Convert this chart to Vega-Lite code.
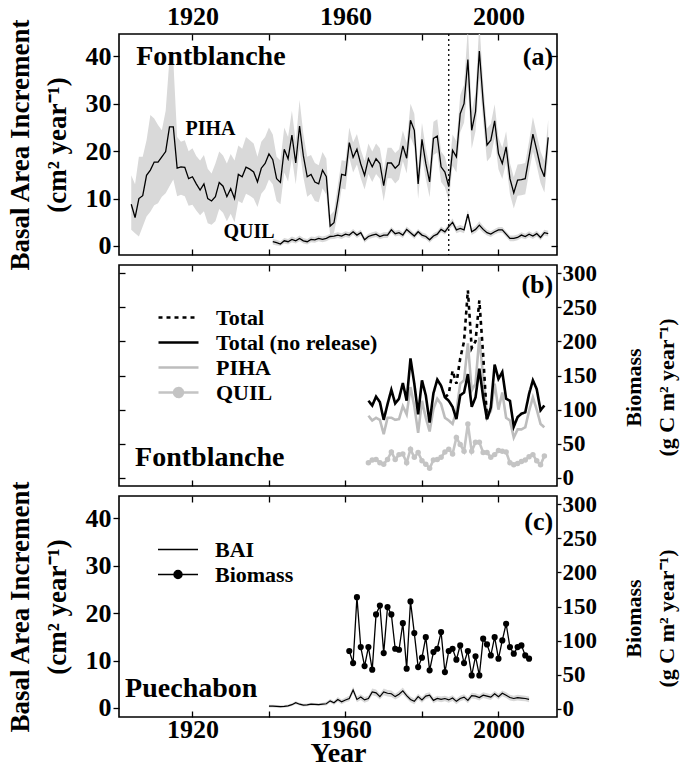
{
"$schema": "https://vega.github.io/schema/vega-lite/v6.json",
"padding": {"left": 5, "top": 2, "right": 5, "bottom": 0},
"spacing": 10,
"bounds": "flush",
"config": {
  "font": "Liberation Serif",
  "view": {"stroke": "black", "strokeWidth": 1.6},
  "axis": {"domain": false, "grid": false, "labelFont": "Liberation Serif", "labelFontWeight": "bold", "labelFontSize": 26, "labelColor": "black", "tickColor": "black", "tickWidth": 1.3, "titleFont": "Liberation Serif", "titleFontWeight": "bold", "titleColor": "black", "labelFlush": false, "labelOverlap": false, "labelBound": false},
  "legend": {"labelFont": "Liberation Serif", "labelFontWeight": "bold", "labelFontSize": 22, "labelColor": "black", "labelLimit": 400},
  "text": {"font": "Liberation Serif", "fontWeight": "bold", "color": "black"}
},
"resolve": {"scale": {"color": "independent", "strokeDash": "independent", "strokeWidth": "independent", "shape": "independent"}},
"datasets": {
"pa": [
{"y":1904,"m":8.8,"lo":3.4,"hi":14.9},{"y":1905,"m":6.0,"lo":2.7,"hi":13.0},{"y":1906,"m":10.0,"lo":2.0,"hi":18.8},{"y":1907,"m":10.6,"lo":4.1,"hi":18.8},{"y":1908,"m":14.9,"lo":6.2,"hi":22.3},{"y":1909,"m":16.0,"lo":7.2,"hi":27.6},{"y":1910,"m":17.7,"lo":8.6,"hi":26.9},{"y":1911,"m":17.7,"lo":9.0,"hi":25.5},{"y":1912,"m":18.8,"lo":10.4,"hi":24.4},{"y":1913,"m":19.9,"lo":11.1,"hi":28.5},{"y":1914,"m":25.1,"lo":12.6,"hi":39.5},{"y":1915,"m":25.1,"lo":14.0,"hi":39.0},{"y":1916,"m":16.4,"lo":10.5,"hi":23.0},{"y":1917,"m":16.7,"lo":10.8,"hi":22.0},{"y":1918,"m":16.6,"lo":10.5,"hi":22.3},{"y":1919,"m":14.2,"lo":8.5,"hi":20.0},{"y":1920,"m":14.6,"lo":8.7,"hi":20.6},{"y":1921,"m":13.1,"lo":7.5,"hi":19.0},{"y":1922,"m":11.8,"lo":6.5,"hi":18.0},{"y":1923,"m":13.1,"lo":7.3,"hi":19.2},{"y":1924,"m":10.0,"lo":4.8,"hi":16.3},{"y":1925,"m":9.5,"lo":4.5,"hi":15.3},{"y":1926,"m":10.4,"lo":5.2,"hi":17.4},{"y":1927,"m":13.4,"lo":7.8,"hi":19.9},{"y":1928,"m":12.6,"lo":7.0,"hi":19.1},{"y":1929,"m":10.4,"lo":5.2,"hi":17.4},{"y":1930,"m":12.1,"lo":6.8,"hi":19.4},{"y":1931,"m":10.0,"lo":5.0,"hi":18.0},{"y":1932,"m":15.1,"lo":9.5,"hi":21.2},{"y":1933,"m":14.6,"lo":9.0,"hi":20.5},{"y":1934,"m":16.6,"lo":11.0,"hi":23.0},{"y":1935,"m":16.2,"lo":10.6,"hi":22.3},{"y":1936,"m":15.6,"lo":10.0,"hi":21.6},{"y":1937,"m":13.5,"lo":8.2,"hi":18.8},{"y":1938,"m":16.4,"lo":11.0,"hi":22.0},{"y":1939,"m":17.4,"lo":12.0,"hi":23.0},{"y":1940,"m":19.4,"lo":14.0,"hi":25.0},{"y":1941,"m":18.2,"lo":13.0,"hi":23.5},{"y":1942,"m":14.2,"lo":9.5,"hi":18.8},{"y":1943,"m":13.4,"lo":8.8,"hi":18.0},{"y":1944,"m":20.4,"lo":15.5,"hi":25.0},{"y":1945,"m":18.4,"lo":13.6,"hi":23.0},{"y":1946,"m":23.4,"lo":18.6,"hi":28.5},{"y":1947,"m":17.5,"lo":13.0,"hi":22.0},{"y":1948,"m":25.3,"lo":20.5,"hi":30.8},{"y":1949,"m":19.0,"lo":14.5,"hi":23.6},{"y":1950,"m":14.6,"lo":10.4,"hi":18.8},{"y":1951,"m":15.1,"lo":11.0,"hi":19.2},{"y":1952,"m":13.5,"lo":9.5,"hi":17.5},{"y":1953,"m":13.1,"lo":9.2,"hi":17.0},{"y":1954,"m":16.0,"lo":12.2,"hi":19.8},{"y":1955,"m":14.6,"lo":10.8,"hi":18.4},{"y":1956,"m":4.2,"lo":2.2,"hi":6.5},{"y":1957,"m":4.9,"lo":2.8,"hi":7.4},{"y":1958,"m":9.7,"lo":6.7,"hi":12.8},{"y":1959,"m":15.1,"lo":12.1,"hi":18.1},{"y":1960,"m":14.9,"lo":11.9,"hi":17.9},{"y":1961,"m":21.8,"lo":18.6,"hi":25.0},{"y":1962,"m":18.7,"lo":15.5,"hi":21.9},{"y":1963,"m":20.4,"lo":17.2,"hi":23.6},{"y":1964,"m":17.3,"lo":14.3,"hi":20.3},{"y":1965,"m":14.9,"lo":11.9,"hi":17.9},{"y":1966,"m":18.4,"lo":15.2,"hi":21.6},{"y":1967,"m":16.7,"lo":13.5,"hi":19.9},{"y":1968,"m":18.4,"lo":15.2,"hi":21.6},{"y":1969,"m":17.4,"lo":14.2,"hi":20.6},{"y":1970,"m":12.7,"lo":9.5,"hi":15.9},{"y":1971,"m":17.5,"lo":14.3,"hi":20.7},{"y":1972,"m":17.5,"lo":14.3,"hi":20.7},{"y":1973,"m":16.4,"lo":13.2,"hi":19.6},{"y":1974,"m":17.2,"lo":14.0,"hi":20.4},{"y":1975,"m":21.1,"lo":17.9,"hi":24.3},{"y":1976,"m":18.5,"lo":15.3,"hi":21.7},{"y":1977,"m":26.5,"lo":23.0,"hi":30.0},{"y":1978,"m":24.4,"lo":20.9,"hi":27.9},{"y":1979,"m":13.1,"lo":9.9,"hi":16.3},{"y":1980,"m":22.5,"lo":19.0,"hi":26.0},{"y":1981,"m":17.4,"lo":14.2,"hi":20.6},{"y":1982,"m":13.5,"lo":10.3,"hi":16.7},{"y":1983,"m":22.7,"lo":19.2,"hi":26.2},{"y":1984,"m":23.2,"lo":19.7,"hi":26.7},{"y":1985,"m":16.7,"lo":13.5,"hi":19.9},{"y":1986,"m":15.6,"lo":12.4,"hi":18.8},{"y":1987,"m":12.5,"lo":9.5,"hi":15.5},{"y":1988,"m":20.2,"lo":16.9,"hi":23.5},{"y":1989,"m":18.8,"lo":15.5,"hi":22.1},{"y":1990,"m":27.9,"lo":24.0,"hi":31.8},{"y":1991,"m":30.0,"lo":26.0,"hi":34.0},{"y":1992,"m":39.3,"lo":34.0,"hi":46.0},{"y":1993,"m":24.4,"lo":20.5,"hi":28.3},{"y":1994,"m":28.3,"lo":24.2,"hi":32.4},{"y":1995,"m":41.1,"lo":35.5,"hi":47.0},{"y":1996,"m":30.4,"lo":26.3,"hi":34.5},{"y":1997,"m":21.3,"lo":17.8,"hi":24.8},{"y":1998,"m":22.3,"lo":18.8,"hi":25.8},{"y":1999,"m":26.4,"lo":22.9,"hi":29.9},{"y":2000,"m":19.5,"lo":16.2,"hi":22.8},{"y":2001,"m":17.4,"lo":14.1,"hi":20.7},{"y":2002,"m":20.9,"lo":17.6,"hi":24.2},{"y":2003,"m":14.2,"lo":10.9,"hi":17.5},{"y":2004,"m":11.2,"lo":7.9,"hi":14.5},{"y":2005,"m":13.9,"lo":10.6,"hi":17.2},{"y":2006,"m":14.0,"lo":10.7,"hi":17.3},{"y":2007,"m":14.2,"lo":10.9,"hi":17.5},{"y":2008,"m":18.8,"lo":15.5,"hi":22.1},{"y":2009,"m":23.6,"lo":20.0,"hi":27.2},{"y":2010,"m":20.2,"lo":16.9,"hi":23.5},{"y":2011,"m":16.6,"lo":13.3,"hi":19.9},{"y":2012,"m":14.6,"lo":11.3,"hi":17.9},{"y":2013,"m":22.9,"lo":19.2,"hi":26.6}
],
"qa": [
{"y":1941,"m":0.9,"lo":0.3,"hi":1.5},{"y":1942,"m":0.7,"lo":0.1,"hi":1.3},{"y":1943,"m":0.4,"lo":0.0,"hi":1.0},{"y":1944,"m":1.1,"lo":0.5,"hi":1.7},{"y":1945,"m":0.9,"lo":0.3,"hi":1.5},{"y":1946,"m":1.4,"lo":0.8,"hi":2.0},{"y":1947,"m":1.1,"lo":0.5,"hi":1.7},{"y":1948,"m":1.6,"lo":1.0,"hi":2.2},{"y":1949,"m":1.1,"lo":0.5,"hi":1.7},{"y":1950,"m":0.9,"lo":0.3,"hi":1.5},{"y":1951,"m":1.4,"lo":0.8,"hi":2.0},{"y":1952,"m":1.3,"lo":0.7,"hi":1.9},{"y":1953,"m":1.6,"lo":1.0,"hi":2.2},{"y":1954,"m":1.4,"lo":0.8,"hi":2.0},{"y":1955,"m":1.6,"lo":1.0,"hi":2.2},{"y":1956,"m":2.0,"lo":1.4,"hi":2.6},{"y":1957,"m":2.1,"lo":1.5,"hi":2.7},{"y":1958,"m":2.3,"lo":1.7,"hi":2.9},{"y":1959,"m":2.1,"lo":1.5,"hi":2.7},{"y":1960,"m":2.5,"lo":1.9,"hi":3.1},{"y":1961,"m":2.3,"lo":1.7,"hi":2.9},{"y":1962,"m":3.0,"lo":2.4,"hi":3.6},{"y":1963,"m":2.3,"lo":1.7,"hi":2.9},{"y":1964,"m":2.8,"lo":2.2,"hi":3.4},{"y":1965,"m":1.3,"lo":0.7,"hi":1.9},{"y":1966,"m":2.0,"lo":1.4,"hi":2.6},{"y":1967,"m":2.3,"lo":1.7,"hi":2.9},{"y":1968,"m":2.5,"lo":1.9,"hi":3.1},{"y":1969,"m":2.0,"lo":1.4,"hi":2.6},{"y":1970,"m":2.3,"lo":1.7,"hi":2.9},{"y":1971,"m":2.3,"lo":1.7,"hi":2.9},{"y":1972,"m":3.4,"lo":2.8,"hi":4.0},{"y":1973,"m":2.6,"lo":2.0,"hi":3.2},{"y":1974,"m":2.8,"lo":2.2,"hi":3.4},{"y":1975,"m":2.3,"lo":1.7,"hi":2.9},{"y":1976,"m":3.5,"lo":2.9,"hi":4.1},{"y":1977,"m":2.8,"lo":2.2,"hi":3.4},{"y":1978,"m":2.1,"lo":1.5,"hi":2.7},{"y":1979,"m":3.0,"lo":2.4,"hi":3.6},{"y":1980,"m":2.3,"lo":1.7,"hi":2.9},{"y":1981,"m":2.0,"lo":1.4,"hi":2.6},{"y":1982,"m":1.3,"lo":0.7,"hi":1.9},{"y":1983,"m":2.1,"lo":1.5,"hi":2.7},{"y":1984,"m":2.5,"lo":1.9,"hi":3.1},{"y":1985,"m":3.5,"lo":2.9,"hi":4.1},{"y":1986,"m":3.0,"lo":2.4,"hi":3.6},{"y":1987,"m":4.1,"lo":3.4,"hi":4.8},{"y":1988,"m":5.0,"lo":4.2,"hi":5.8},{"y":1989,"m":3.4,"lo":2.7,"hi":4.1},{"y":1990,"m":3.7,"lo":3.0,"hi":4.4},{"y":1991,"m":3.4,"lo":2.7,"hi":4.1},{"y":1992,"m":6.7,"lo":5.8,"hi":7.6},{"y":1993,"m":3.0,"lo":2.3,"hi":3.7},{"y":1994,"m":3.5,"lo":2.8,"hi":4.2},{"y":1995,"m":4.4,"lo":3.6,"hi":5.2},{"y":1996,"m":3.5,"lo":2.8,"hi":4.2},{"y":1997,"m":2.8,"lo":2.2,"hi":3.4},{"y":1998,"m":2.5,"lo":1.9,"hi":3.1},{"y":1999,"m":3.0,"lo":2.4,"hi":3.6},{"y":2000,"m":3.4,"lo":2.8,"hi":4.0},{"y":2001,"m":3.4,"lo":2.8,"hi":4.0},{"y":2002,"m":2.5,"lo":1.9,"hi":3.1},{"y":2003,"m":1.6,"lo":1.0,"hi":2.2},{"y":2004,"m":1.6,"lo":1.0,"hi":2.2},{"y":2005,"m":1.8,"lo":1.2,"hi":2.4},{"y":2006,"m":2.3,"lo":1.7,"hi":2.9},{"y":2007,"m":2.0,"lo":1.4,"hi":2.6},{"y":2008,"m":2.5,"lo":1.9,"hi":3.1},{"y":2009,"m":2.1,"lo":1.5,"hi":2.7},{"y":2010,"m":2.6,"lo":2.0,"hi":3.2},{"y":2011,"m":1.8,"lo":1.2,"hi":2.4},{"y":2012,"m":2.8,"lo":2.2,"hi":3.4},{"y":2013,"m":2.6,"lo":2.0,"hi":3.2}
],
"pb": [
{"y":1966,"p":91,"q":22,"n":113},{"y":1967,"p":84,"q":26,"n":106},{"y":1968,"p":88,"q":27,"n":119},{"y":1969,"p":85,"q":22,"n":111},{"y":1970,"p":64,"q":20,"n":85},{"y":1971,"p":88,"q":27,"n":108},{"y":1972,"p":88,"q":38,"n":129},{"y":1973,"p":85,"q":27,"n":109},{"y":1974,"p":86,"q":34,"n":116},{"y":1975,"p":105,"q":35,"n":139},{"y":1976,"p":93,"q":22,"n":113},{"y":1977,"p":133,"q":42,"n":175},{"y":1978,"p":105,"q":30,"n":138},{"y":1979,"p":66,"q":37,"n":93},{"y":1980,"p":113,"q":25,"n":143},{"y":1981,"p":88,"q":20,"n":121},{"y":1982,"p":68,"q":14,"n":81},{"y":1983,"p":101,"q":26,"n":124},{"y":1984,"p":116,"q":27,"n":144},{"y":1985,"p":108,"q":30,"n":135},{"y":1986,"p":88,"q":38,"n":118,"t":118},{"y":1987,"p":84,"q":42,"n":113,"t":123},{"y":1988,"p":79,"q":35,"n":104,"t":157},{"y":1989,"p":98,"q":59,"n":86,"t":138},{"y":1990,"p":138,"q":49,"n":121,"t":175},{"y":1991,"p":143,"q":39,"n":125,"t":200},{"y":1992,"p":197,"q":79,"n":152,"t":275},{"y":1993,"p":128,"q":39,"n":104,"t":190},{"y":1994,"p":138,"q":52,"n":118,"t":200},{"y":1995,"p":206,"q":52,"n":160,"t":260},{"y":1996,"p":148,"q":37,"n":118,"t":180},{"y":1997,"p":88,"q":37,"n":86,"t":86},{"y":1998,"p":98,"q":30,"n":103},{"y":1999,"p":138,"q":34,"n":166},{"y":2000,"p":100,"q":40,"n":145},{"y":2001,"p":125,"q":39,"n":155},{"y":2002,"p":88,"q":38,"n":116},{"y":2003,"p":84,"q":22,"n":113},{"y":2004,"p":59,"q":19,"n":75},{"y":2005,"p":71,"q":21,"n":89},{"y":2006,"p":71,"q":24,"n":94},{"y":2007,"p":74,"q":26,"n":96},{"y":2008,"p":98,"q":31,"n":123},{"y":2009,"p":118,"q":34,"n":143},{"y":2010,"p":100,"q":25,"n":130},{"y":2011,"p":79,"q":19,"n":99},{"y":2012,"p":74,"q":32,"n":106}
],
"ca": [
{"y":1940,"m":0.4,"lo":0.1,"hi":0.7},{"y":1941,"m":0.4,"lo":0.1,"hi":0.7},{"y":1942,"m":0.35,"lo":0.05,"hi":0.65},{"y":1943,"m":0.3,"lo":0.0,"hi":0.6},{"y":1944,"m":0.35,"lo":0.05,"hi":0.65},{"y":1945,"m":0.45,"lo":0.15,"hi":0.75},{"y":1946,"m":0.7,"lo":0.4,"hi":1.0},{"y":1947,"m":1.1,"lo":0.8,"hi":1.4},{"y":1948,"m":0.8,"lo":0.5,"hi":1.1},{"y":1949,"m":0.6,"lo":0.3,"hi":0.9},{"y":1950,"m":0.65,"lo":0.35,"hi":0.95},{"y":1951,"m":0.8,"lo":0.5,"hi":1.1},{"y":1952,"m":0.75,"lo":0.45,"hi":1.05},{"y":1953,"m":0.7,"lo":0.4,"hi":1.0},{"y":1954,"m":0.8,"lo":0.5,"hi":1.1},{"y":1955,"m":0.9,"lo":0.5,"hi":1.3},{"y":1956,"m":1.5,"lo":1.1,"hi":1.9},{"y":1957,"m":1.1,"lo":0.7,"hi":1.5},{"y":1958,"m":1.8,"lo":1.3,"hi":2.3},{"y":1959,"m":1.3,"lo":0.8,"hi":1.8},{"y":1960,"m":1.7,"lo":1.2,"hi":2.2},{"y":1961,"m":2.0,"lo":1.4,"hi":2.6},{"y":1962,"m":3.8,"lo":3.1,"hi":4.5},{"y":1963,"m":1.8,"lo":1.2,"hi":2.4},{"y":1964,"m":2.3,"lo":1.7,"hi":2.9},{"y":1965,"m":1.7,"lo":1.1,"hi":2.3},{"y":1966,"m":2.0,"lo":1.4,"hi":2.6},{"y":1967,"m":3.4,"lo":2.7,"hi":4.1},{"y":1968,"m":3.2,"lo":2.5,"hi":3.9},{"y":1969,"m":2.4,"lo":1.8,"hi":3.0},{"y":1970,"m":3.4,"lo":2.7,"hi":4.1},{"y":1971,"m":3.1,"lo":2.4,"hi":3.8},{"y":1972,"m":3.0,"lo":2.3,"hi":3.7},{"y":1973,"m":2.4,"lo":1.8,"hi":3.0},{"y":1974,"m":2.9,"lo":2.2,"hi":3.6},{"y":1975,"m":3.6,"lo":2.9,"hi":4.3},{"y":1976,"m":2.6,"lo":2.0,"hi":3.2},{"y":1977,"m":1.8,"lo":1.2,"hi":2.4},{"y":1978,"m":1.4,"lo":0.8,"hi":2.0},{"y":1979,"m":2.4,"lo":1.8,"hi":3.0},{"y":1980,"m":1.7,"lo":1.1,"hi":2.3},{"y":1981,"m":2.5,"lo":1.9,"hi":3.1},{"y":1982,"m":2.7,"lo":2.1,"hi":3.3},{"y":1983,"m":1.6,"lo":1.0,"hi":2.2},{"y":1984,"m":2.0,"lo":1.4,"hi":2.6},{"y":1985,"m":1.8,"lo":1.2,"hi":2.4},{"y":1986,"m":2.0,"lo":1.4,"hi":2.6},{"y":1987,"m":1.7,"lo":1.1,"hi":2.3},{"y":1988,"m":2.1,"lo":1.5,"hi":2.7},{"y":1989,"m":1.4,"lo":0.8,"hi":2.0},{"y":1990,"m":2.0,"lo":1.4,"hi":2.6},{"y":1991,"m":2.3,"lo":1.7,"hi":2.9},{"y":1992,"m":1.6,"lo":1.0,"hi":2.2},{"y":1993,"m":2.6,"lo":2.0,"hi":3.2},{"y":1994,"m":2.5,"lo":1.9,"hi":3.1},{"y":1995,"m":2.2,"lo":1.6,"hi":2.8},{"y":1996,"m":2.7,"lo":2.1,"hi":3.3},{"y":1997,"m":2.5,"lo":1.9,"hi":3.1},{"y":1998,"m":2.3,"lo":1.7,"hi":2.9},{"y":1999,"m":3.0,"lo":2.4,"hi":3.6},{"y":2000,"m":2.4,"lo":1.8,"hi":3.0},{"y":2001,"m":3.1,"lo":2.5,"hi":3.7},{"y":2002,"m":2.7,"lo":2.1,"hi":3.3},{"y":2003,"m":2.2,"lo":1.6,"hi":2.8},{"y":2004,"m":2.0,"lo":1.4,"hi":2.6},{"y":2005,"m":2.2,"lo":1.6,"hi":2.8},{"y":2006,"m":2.1,"lo":1.5,"hi":2.7},{"y":2007,"m":2.0,"lo":1.4,"hi":2.6},{"y":2008,"m":1.8,"lo":1.2,"hi":2.4}
],
"cb": [
{"y":1961,"v":84.7},{"y":1962,"v":67.1},{"y":1963,"v":163.7},{"y":1964,"v":90.5},{"y":1965,"v":62.7},{"y":1966,"v":90.5},{"y":1967,"v":57.4},{"y":1968,"v":138.4},{"y":1969,"v":151.5},{"y":1970,"v":81.7},{"y":1971,"v":149.1},{"y":1972,"v":138.4},{"y":1973,"v":88.1},{"y":1974,"v":86.6},{"y":1975,"v":125.6},{"y":1976,"v":58.8},{"y":1977,"v":157.4},{"y":1978,"v":111},{"y":1979,"v":61.2},{"y":1980,"v":75},{"y":1981,"v":105.1},{"y":1982,"v":56.4},{"y":1983,"v":83.2},{"y":1984,"v":88.1},{"y":1985,"v":112.5},{"y":1986,"v":53.9},{"y":1987,"v":84.7},{"y":1988,"v":88.1},{"y":1989,"v":72},{"y":1990,"v":93},{"y":1991,"v":67.1},{"y":1992,"v":84.7},{"y":1993,"v":49},{"y":1994,"v":76.9},{"y":1995,"v":49},{"y":1996,"v":102.8},{"y":1997,"v":94.4},{"y":1998,"v":78.3},{"y":1999,"v":105.1},{"y":2000,"v":73.5},{"y":2001,"v":100.3},{"y":2002,"v":124.7},{"y":2003,"v":90.5},{"y":2004,"v":80.8},{"y":2005,"v":90.5},{"y":2006,"v":93},{"y":2007,"v":78.3},{"y":2008,"v":73.5}
]
},
"vconcat": [
{
 "width": 438, "height": 221,
 "resolve": {"axis": {"x": "independent", "y": "independent"}},
 "layer": [
  {"data": {"name": "pa"}, "mark": {"type": "area", "color": "#d9d9d9", "clip": true},
   "encoding": {
    "x": {"field": "y", "type": "quantitative", "scale": {"domain": [1900.8, 2015.3], "nice": false, "zero": false},
          "axis": {"orient": "top", "values": [1920,1940,1960,1980,2000], "format": "d", "labelExpr": "datum.value % 40 == 0 ? datum.label : ''", "tickSize": -6, "labelPadding": 11, "title": null}},
    "y": {"field": "lo", "type": "quantitative", "scale": {"domain": [-1.9, 44.7], "nice": false, "zero": false},
          "axis": {"orient": "left", "values": [0,10,20,30,40], "tickSize": 6, "labelPadding": 2, "title": ["Basal Area Increment", "(cm² year⁻¹)"], "titleFontSize": 27, "titleLineHeight": 37, "titlePadding": 14}},
    "y2": {"field": "hi"}}},
  {"data": {"name": "qa"}, "mark": {"type": "area", "color": "#d9d9d9"},
   "encoding": {
    "x": {"field": "y", "type": "quantitative", "axis": null},
    "y": {"field": "lo", "type": "quantitative", "axis": null},
    "y2": {"field": "hi"}}},
  {"data": {"name": "pa"}, "mark": {"type": "line", "color": "black", "strokeWidth": 1.3},
   "encoding": {
    "x": {"field": "y", "type": "quantitative", "axis": {"orient": "bottom", "values": [1920,1940,1960,1980,2000], "labels": false, "tickSize": -6, "title": null}},
    "y": {"field": "m", "type": "quantitative", "axis": {"orient": "right", "values": [0,10,20,30,40], "labels": false, "tickSize": -6, "title": null}}}},
  {"data": {"name": "qa"}, "mark": {"type": "line", "color": "black", "strokeWidth": 1.3},
   "encoding": {
    "x": {"field": "y", "type": "quantitative", "axis": null},
    "y": {"field": "m", "type": "quantitative", "axis": null}}},
  {"data": {"values": [{}]}, "mark": {"type": "rule", "color": "black", "strokeWidth": 1.3, "strokeDash": [2, 3]},
   "encoding": {"x": {"datum": 1987, "type": "quantitative", "axis": null}}},
  {"data": {"values": [{}]}, "mark": {"type": "text", "text": "Fontblanche", "fontSize": 28, "align": "left", "baseline": "alphabetic"},
   "encoding": {"x": {"datum": 1905.3, "type": "quantitative", "axis": null}, "y": {"datum": 38.1, "type": "quantitative", "axis": null}}},
  {"data": {"values": [{}]}, "mark": {"type": "text", "text": "(a)", "fontSize": 26, "align": "right", "baseline": "alphabetic"},
   "encoding": {"x": {"datum": 2014.3, "type": "quantitative", "axis": null}, "y": {"datum": 38.1, "type": "quantitative", "axis": null}}},
  {"data": {"values": [{}]}, "mark": {"type": "text", "text": "PIHA", "fontSize": 20, "align": "left", "baseline": "alphabetic"},
   "encoding": {"x": {"datum": 1918.2, "type": "quantitative", "axis": null}, "y": {"datum": 23.4, "type": "quantitative", "axis": null}}},
  {"data": {"values": [{}]}, "mark": {"type": "text", "text": "QUIL", "fontSize": 20, "align": "left", "baseline": "alphabetic"},
   "encoding": {"x": {"datum": 1928.1, "type": "quantitative", "axis": null}, "y": {"datum": 1.7, "type": "quantitative", "axis": null}}}
 ]
},
{
 "width": 438, "height": 221,
 "resolve": {"axis": {"x": "independent", "y": "independent"}},
 "layer": [
  {"data": {"name": "pb"}, "mark": {"type": "line"},
   "encoding": {
    "x": {"field": "y", "type": "quantitative", "scale": {"domain": [1900.8, 2015.3], "nice": false, "zero": false},
          "axis": {"orient": "top", "values": [1920,1940,1960,1980,2000], "labels": false, "tickSize": -6, "title": null}},
    "y": {"field": "p", "type": "quantitative", "scale": {"domain": [-12, 312], "nice": false, "zero": false},
          "axis": {"orient": "left", "values": [0,50,100,150,200,250,300], "labels": false, "tickSize": -6, "title": null}},
    "color": {"datum": "PIHA", "type": "nominal", "scale": {"domain": ["Total", "Total (no release)", "PIHA", "QUIL"], "range": ["black", "black", "#bdbdbd", "#c4c4c4"]},
              "legend": {"orient": "none", "legendX": 38, "legendY": 40, "title": null, "symbolType": "stroke", "symbolSize": 1600, "clipHeight": 25, "labelOffset": 16, "rowPadding": 0, "symbolFillColor": "#c4c4c4"}},
    "strokeDash": {"datum": "PIHA", "type": "nominal", "scale": {"domain": ["Total", "Total (no release)", "PIHA", "QUIL"], "range": [[4, 4], [1, 0], [1, 0], [1, 0]]},
              "legend": {"orient": "none", "legendX": 38, "legendY": 40, "title": null, "symbolType": "stroke", "symbolSize": 1600, "clipHeight": 25, "labelOffset": 16, "rowPadding": 0, "symbolFillColor": "#c4c4c4"}},
    "strokeWidth": {"datum": "PIHA", "type": "nominal", "scale": {"domain": ["Total", "Total (no release)", "PIHA", "QUIL"], "range": [2.6, 2.6, 2.8, 1.3]},
              "legend": {"orient": "none", "legendX": 38, "legendY": 40, "title": null, "symbolType": "stroke", "symbolSize": 1600, "clipHeight": 25, "labelOffset": 16, "rowPadding": 0, "symbolFillColor": "#c4c4c4"}}}},
  {"data": {"name": "pb"}, "mark": {"type": "line"},
   "encoding": {
    "x": {"field": "y", "type": "quantitative", "axis": {"orient": "bottom", "values": [1920,1940,1960,1980,2000], "labels": false, "tickSize": -6, "title": null}},
    "y": {"field": "q", "type": "quantitative",
          "axis": {"orient": "right", "values": [0,50,100,150,200,250,300], "tickSize": 4, "labelPadding": 1, "labelFontSize": 23, "title": ["Biomass", "(g C m² year⁻¹)"], "titleAngle": 270, "titleFontSize": 22, "titleLineHeight": 33, "titlePadding": 16, "titleY": 122}},
    "color": {"datum": "QUIL", "type": "nominal"},
    "strokeDash": {"datum": "QUIL", "type": "nominal"},
    "strokeWidth": {"datum": "QUIL", "type": "nominal"}}},
  {"data": {"name": "pb"}, "mark": {"type": "point", "filled": true, "color": "#c4c4c4", "size": 30, "opacity": 1},
   "encoding": {
    "x": {"field": "y", "type": "quantitative", "axis": null},
    "y": {"field": "q", "type": "quantitative", "axis": null}}},
  {"data": {"name": "pb"}, "mark": {"type": "line"},
   "encoding": {
    "x": {"field": "y", "type": "quantitative", "axis": null},
    "y": {"field": "t", "type": "quantitative", "axis": null},
    "color": {"datum": "Total", "type": "nominal"},
    "strokeDash": {"datum": "Total", "type": "nominal"},
    "strokeWidth": {"datum": "Total", "type": "nominal"}}},
  {"data": {"name": "pb"}, "mark": {"type": "line"},
   "encoding": {
    "x": {"field": "y", "type": "quantitative", "axis": null},
    "y": {"field": "n", "type": "quantitative", "axis": null},
    "color": {"datum": "Total (no release)", "type": "nominal"},
    "strokeDash": {"datum": "Total (no release)", "type": "nominal"},
    "strokeWidth": {"datum": "Total (no release)", "type": "nominal"}}},
  {"data": {"name": "pb"}, "transform": [{"filter": "false"}], "mark": {"type": "point", "filled": true, "opacity": 1, "color": "#c4c4c4"},
   "encoding": {
    "shape": {"datum": "QUIL", "type": "nominal", "scale": {"domain": ["Total", "Total (no release)", "PIHA", "QUIL"], "range": ["stroke", "stroke", "stroke", "M-1,0H1M-0.22,0A0.22,0.22 0 1,1 0.22,0A0.22,0.22 0 1,1 -0.22,0Z"]},
              "legend": {"orient": "none", "legendX": 38, "legendY": 40, "title": null, "symbolType": "stroke", "symbolSize": 1600, "clipHeight": 25, "labelOffset": 16, "rowPadding": 0, "symbolFillColor": "#c4c4c4"}}}},
  {"data": {"values": [{}]}, "mark": {"type": "text", "text": "Fontblanche", "fontSize": 28, "align": "left", "baseline": "alphabetic"},
   "encoding": {"x": {"datum": 1905, "type": "quantitative", "axis": null}, "y": {"datum": 17, "type": "quantitative", "axis": null}}},
  {"data": {"values": [{}]}, "mark": {"type": "text", "text": "(b)", "fontSize": 26, "align": "right", "baseline": "alphabetic"},
   "encoding": {"x": {"datum": 2014.3, "type": "quantitative", "axis": null}, "y": {"datum": 271, "type": "quantitative", "axis": null}}}
 ]
},
{
 "width": 438, "height": 221,
 "resolve": {"scale": {"y": "independent"}, "axis": {"x": "independent", "y": "independent"}},
 "layer": [
  {
   "resolve": {"axis": {"x": "independent", "y": "independent"}},
   "layer": [
    {"data": {"name": "ca"}, "mark": {"type": "area", "color": "#d9d9d9"},
     "encoding": {
      "x": {"field": "y", "type": "quantitative", "scale": {"domain": [1900.8, 2015.3], "nice": false, "zero": false},
            "axis": {"orient": "top", "values": [1920,1940,1960,1980,2000], "labels": false, "tickSize": -6, "title": null}},
      "y": {"field": "lo", "type": "quantitative", "scale": {"domain": [-1.9, 44.7], "nice": false, "zero": false},
            "axis": {"orient": "left", "values": [0,10,20,30,40], "tickSize": 6, "labelPadding": 2, "title": ["Basal Area Increment", "(cm² year⁻¹)"], "titleFontSize": 27, "titleLineHeight": 37, "titlePadding": 14}},
      "y2": {"field": "hi"}}},
    {"data": {"name": "ca"}, "mark": {"type": "line", "strokeWidth": 1.2},
     "encoding": {
      "x": {"field": "y", "type": "quantitative",
            "axis": {"orient": "bottom", "values": [1920,1940,1960,1980,2000], "format": "d", "labelExpr": "datum.value % 40 == 0 ? datum.label : ''", "tickSize": -6, "labelPadding": 5, "title": "Year", "titleFontSize": 28, "titlePadding": -3}},
      "y": {"field": "m", "type": "quantitative", "axis": null},
      "color": {"datum": "BAI", "type": "nominal", "scale": {"domain": ["BAI", "Biomass"], "range": ["black", "black"]},
                "legend": {"orient": "none", "legendX": 38, "legendY": 41, "title": null, "symbolType": "stroke", "symbolSize": 1600, "clipHeight": 25, "labelOffset": 16, "rowPadding": 0, "symbolFillColor": "black"}}}},
    {"data": {"values": [{}]}, "mark": {"type": "text", "text": "Puechabon", "fontSize": 28, "align": "left", "baseline": "alphabetic"},
     "encoding": {"x": {"datum": 1902.4, "type": "quantitative", "axis": null}, "y": {"datum": 2.3, "type": "quantitative", "axis": null}}},
    {"data": {"values": [{}]}, "mark": {"type": "text", "text": "(c)", "fontSize": 26, "align": "right", "baseline": "alphabetic"},
     "encoding": {"x": {"datum": 2014.3, "type": "quantitative", "axis": null}, "y": {"datum": 37.5, "type": "quantitative", "axis": null}}}
   ]
  },
  {
   "resolve": {"axis": {"x": "independent", "y": "independent"}},
   "layer": [
    {"data": {"name": "cb"}, "mark": {"type": "line", "strokeWidth": 1.3},
     "encoding": {
      "x": {"field": "y", "type": "quantitative", "axis": null},
      "y": {"field": "v", "type": "quantitative", "scale": {"domain": [-12, 312], "nice": false, "zero": false},
            "axis": {"orient": "right", "values": [0,50,100,150,200,250,300], "tickSize": 4, "labelPadding": 1, "labelFontSize": 23, "title": ["Biomass", "(g C m² year⁻¹)"], "titleAngle": 270, "titleFontSize": 22, "titleLineHeight": 33, "titlePadding": 16, "titleY": 122}},
      "color": {"datum": "Biomass", "type": "nominal"}}},
    {"data": {"name": "cb"}, "mark": {"type": "point", "filled": true, "color": "black", "size": 38, "opacity": 1},
     "encoding": {
      "x": {"field": "y", "type": "quantitative", "axis": null},
      "y": {"field": "v", "type": "quantitative", "axis": null}}},
    {"data": {"name": "cb"}, "transform": [{"filter": "false"}], "mark": {"type": "point", "filled": true, "opacity": 1, "color": "black"},
     "encoding": {
      "shape": {"datum": "Biomass", "type": "nominal", "scale": {"domain": ["BAI", "Biomass"], "range": ["stroke", "M-1,0H1M-0.2,0A0.2,0.2 0 1,1 0.2,0A0.2,0.2 0 1,1 -0.2,0Z"]},
                "legend": {"orient": "none", "legendX": 38, "legendY": 41, "title": null, "symbolType": "stroke", "symbolSize": 1600, "clipHeight": 25, "labelOffset": 16, "rowPadding": 0, "symbolFillColor": "black"}}}}
   ]
  }
 ]
}
]
}
